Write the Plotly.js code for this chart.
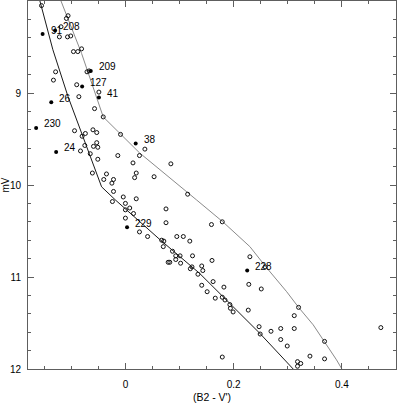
<!DOCTYPE html>
<html>
<head>
<meta charset="utf-8">
<script src="https://cdn.plot.ly/plotly-3.0.1.min.js"></script>
<style>
  html, body { margin: 0; padding: 0; background: #fff; }
  #cmd_graph { width: 397px; height: 403px; }
</style>
</head>
<body>
<div id="cmd_graph"></div>
<script>
// open circles: colour (B2 - V') and magnitude mV
const open_bv = [
  -0.155, -0.106, -0.109, -0.119, -0.122, -0.107, -0.101, -0.096, -0.088, -0.081,
  -0.129, -0.133, -0.071, -0.067, -0.090, -0.049, -0.086, -0.057, -0.041,
  -0.094, -0.080, -0.074, -0.060, -0.053, -0.075, -0.083, -0.059, -0.053, -0.051,
  -0.065, -0.051, -0.009, -0.014, 0.014, 0.026, 0.036, 0.020, 0.017, -0.061,
  -0.035, -0.040, -0.022, -0.025, -0.022, -0.024, -0.004, 0.000, 0.020, 0.008,
  0.000, 0.015, 0.000, 0.026, 0.041, 0.053, 0.084, 0.115, 0.075, 0.075,
  0.159, 0.179, 0.067, 0.071, 0.095, 0.107, 0.119, 0.070, 0.087, 0.093,
  0.101, 0.093, 0.079, 0.082, 0.102, 0.124, 0.120, 0.123, 0.134, 0.141,
  0.143, 0.141, 0.151, 0.230, 0.258, 0.160, 0.162, 0.182, 0.228, 0.251,
  0.166, 0.179, 0.184, 0.193, 0.194, 0.199, 0.227, 0.247, 0.249, 0.269,
  0.287, 0.287, 0.312, 0.299, 0.312, 0.320, 0.179, 0.318, 0.324, 0.318,
  0.341, 0.368, 0.368, 0.472
];
const open_mv = [
  8.05, 8.16, 8.19, 8.28, 8.39, 8.39, 8.38, 8.55, 8.55, 8.52,
  8.77, 8.86, 8.77, 8.76, 8.91, 8.99, 9.04, 9.17, 9.26,
  9.41, 9.47, 9.44, 9.40, 9.43, 9.57, 9.63, 9.58, 9.54, 9.59,
  9.66, 9.72, 9.45, 9.68, 9.76, 9.68, 9.61, 9.87, 9.92, 9.87,
  9.88, 9.94, 9.94, 9.98, 10.07, 10.18, 10.13, 10.20, 10.15, 10.25,
  10.27, 10.31, 10.36, 10.51, 10.56, 9.91, 9.77, 10.10, 10.26, 10.41,
  10.43, 10.40, 10.60, 10.61, 10.56, 10.56, 10.61, 10.67, 10.72, 10.77,
  10.77, 10.81, 10.84, 10.84, 10.85, 10.77, 10.91, 10.89, 10.97, 10.88,
  10.93, 11.09, 11.16, 10.78, 10.89, 10.82, 11.05, 11.11, 11.08, 11.13,
  11.23, 11.22, 11.25, 11.30, 11.34, 11.38, 11.36, 11.54, 11.62, 11.59,
  11.56, 11.68, 11.56, 11.75, 11.42, 11.33, 11.87, 11.92, 11.94, 11.97,
  11.86, 11.70, 11.89, 11.55
];

// filled dots with their star numbers
const filled_bv = [-0.153, -0.130, -0.064, -0.080, -0.049, -0.137, -0.165, -0.128, 0.019, 0.003, 0.225];
const filled_mv = [8.36, 8.32, 8.76, 8.93, 9.05, 9.10, 9.38, 9.64, 9.55, 10.46, 10.93];
const filled_labels = ["91", "208", "209", "127", "41", "26", "230", "24", "38", "229", "228"];

// dark sequence line
const dark_seq_bv = [-0.158, -0.134, -0.106, -0.081, -0.054, -0.044, -0.019, 0.065, 0.137, 0.199, 0.248, 0.310];
const dark_seq_mv = [8.00, 8.53, 9.04, 9.44, 9.87, 10.02, 10.16, 10.60, 10.96, 11.32, 11.61, 12.00];

// grey sequence line
const gray_seq_bv = [-0.119, -0.081, -0.041, 0.026, 0.131, 0.180, 0.230, 0.261, 0.298, 0.320, 0.347, 0.368, 0.390, 0.400];
const gray_seq_mv = [8.00, 8.57, 9.26, 9.65, 10.16, 10.40, 10.67, 10.90, 11.16, 11.33, 11.52, 11.70, 11.90, 12.00];

const bv_range = [-0.18, 0.5];
const mv_range = [12, 8];

const cmd_font = "'Liberation Sans', Arial, sans-serif";
const axis_gray = "#5e5e5e";

let traces = [
  {
    x: dark_seq_bv, y: dark_seq_mv, type: "scatter", mode: "lines",
    line: { color: "#1a1a1a", width: 1 }, hoverinfo: "skip"
  },
  {
    x: gray_seq_bv, y: gray_seq_mv, type: "scatter", mode: "lines",
    line: { color: "#8a8a8a", width: 1 }, hoverinfo: "skip"
  },
  {
    x: open_bv, y: open_mv, type: "scatter", mode: "markers",
    marker: { symbol: "circle-open", size: 4, color: "#111", line: { width: 1 } }
  },
  {
    x: filled_bv, y: filled_mv, type: "scatter", mode: "markers",
    marker: { symbol: "circle", size: 4, color: "#000" }
  },
  // invisible copy so the top / right tick axes get drawn
  {
    x: filled_bv, y: filled_mv, xaxis: "x2", yaxis: "y2",
    type: "scatter", mode: "markers",
    marker: { size: 1, opacity: 0 }, hoverinfo: "skip"
  }
];

let annotations = [];
filled_labels.forEach((label, i) => {
  annotations.push({
    x: filled_bv[i], y: filled_mv[i], xref: "x", yref: "y",
    text: label, showarrow: false,
    xanchor: "left", yanchor: "middle", xshift: 6, yshift: 4,
    font: { family: cmd_font, size: 10, color: "#000000" }
  });
});

// tick settings shared by the labelled axes and the mirrored top/right ones
function x_ticks(extra) {
  return Object.assign({
    range: bv_range,
    tick0: 0, dtick: 0.2,
    ticks: "inside", ticklen: 6, tickwidth: 1, tickcolor: axis_gray,
    minor: { dtick: 0.05, ticks: "inside", ticklen: 3, tickcolor: axis_gray },
    showgrid: false, zeroline: false
  }, extra);
}

function y_ticks(extra) {
  return Object.assign({
    range: mv_range,
    tick0: 8, dtick: 1,
    ticks: "inside", ticklen: 6, tickwidth: 1, tickcolor: axis_gray,
    minor: { dtick: 0.2, ticks: "inside", ticklen: 3, tickcolor: axis_gray },
    showgrid: false, zeroline: false
  }, extra);
}

let layout = {
  width: 397,
  height: 403,
  margin: { l: 28, r: 1, t: 1, b: 34, pad: 0 },
  paper_bgcolor: "#fff",
  plot_bgcolor: "#fff",
  showlegend: false,
  font: { family: cmd_font, size: 10, color: "#000" },
  xaxis: x_ticks({
    showline: true, linecolor: axis_gray, linewidth: 1, mirror: true,
    ticklabelstandoff: 6,
    tickfont: { size: 10 },
    title: { text: "(B2 - V')", font: { size: 10.5 }, standoff: 6 }
  }),
  xaxis2: x_ticks({
    overlaying: "x", side: "top", anchor: "y2", showticklabels: false
  }),
  yaxis: y_ticks({
    showline: true, linecolor: axis_gray, linewidth: 1, mirror: true,
    ticklabelstandoff: 4,
    tickfont: { size: 10 },
    title: { text: "mV", font: { size: 10 }, standoff: 2 }
  }),
  yaxis2: y_ticks({
    overlaying: "y", side: "right", anchor: "x2", showticklabels: false
  }),
  annotations: annotations
};

Plotly.newPlot("cmd_graph", traces, layout, { staticPlot: true });
</script>
</body>
</html>
